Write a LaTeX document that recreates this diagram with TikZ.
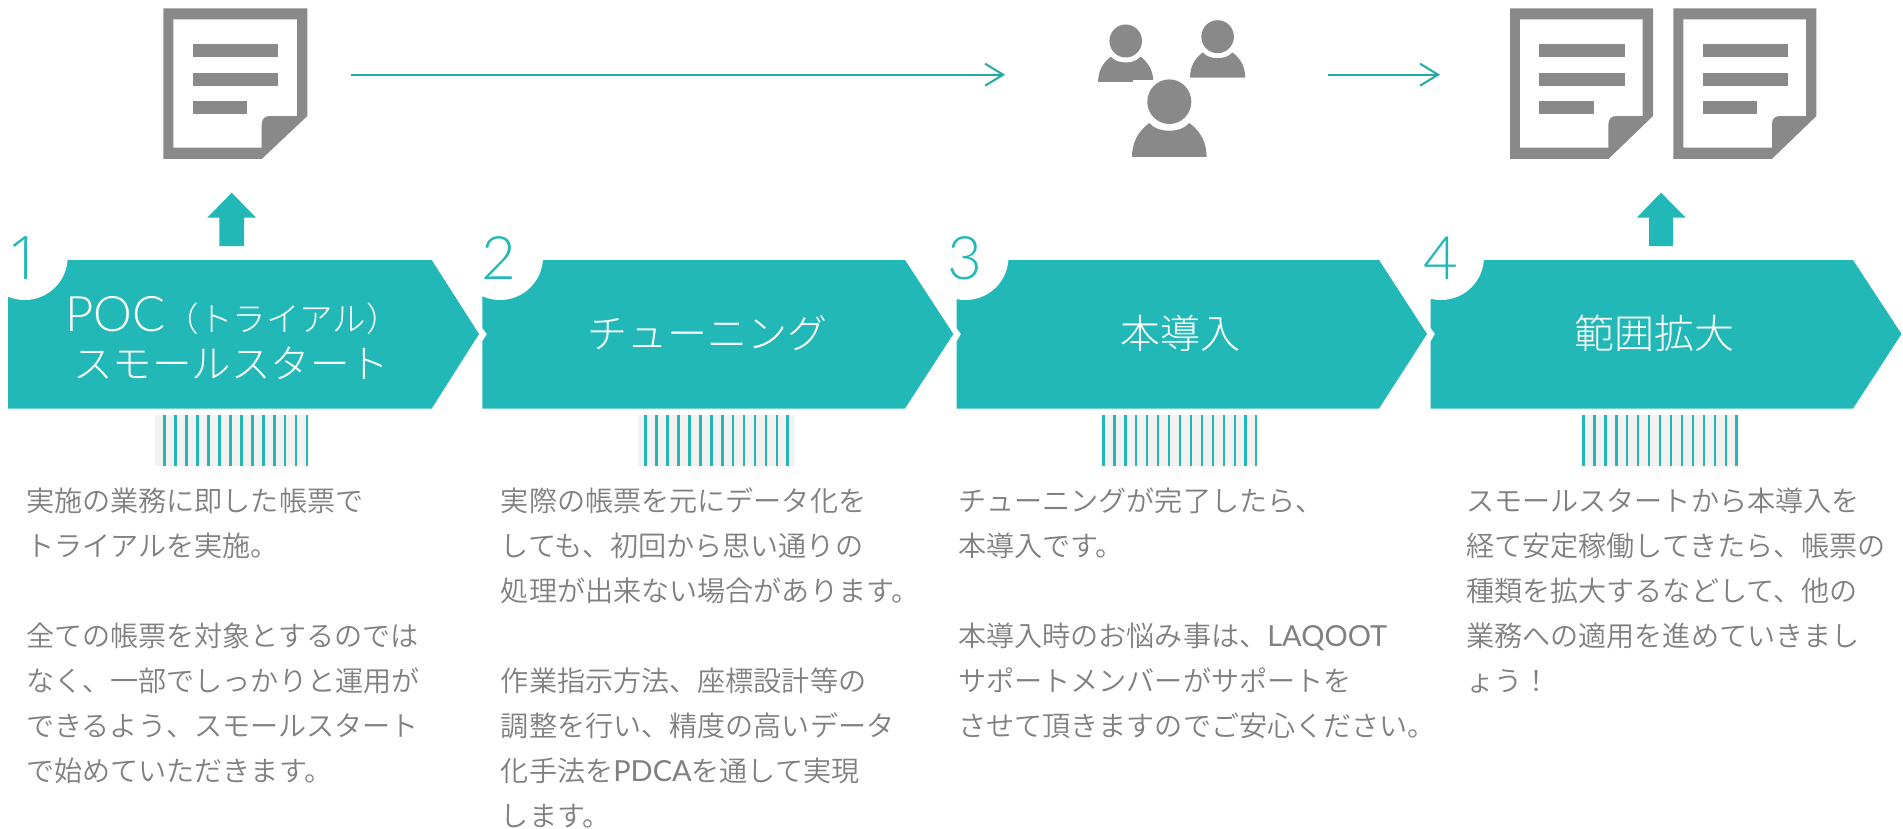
\documentclass[tikz,border=0pt]{standalone}
\usepackage{fontspec}
\usetikzlibrary{arrows.meta}
\setmainfont{Noto Sans CJK JP DemiLight}
\newfontfamily\jplight{Noto Sans CJK JP Light}
\newfontfamily\latreg{Lato}
\newfontfamily\latlight{Lato Light}
\newfontfamily\opnlight{Open Sans Light}
\newcommand{\ltn}[1]{{\latreg\fontsize{29}{45}\selectfont #1}}
\definecolor{teal1}{HTML}{22B8B7}
\definecolor{teal2}{HTML}{22A9A6}
\definecolor{icongray}{HTML}{898989}
\definecolor{bodygray}{HTML}{808080}
\definecolor{stripebg}{HTML}{F2F2F2}
\tikzset{
  chev/.style={fill=teal1,draw=none},
  bodytext/.style={anchor=north west,inner sep=0pt,align=left,text=bodygray,font=\fontsize{28.1}{45}\selectfont},
  steplabel/.style={inner sep=0pt,align=center,text=white,font=\jplight\fontsize{40}{47}\selectfont},
  stepnum/.style={inner sep=0pt,anchor=base,text=teal1,font=\latlight\fontsize{60}{60}\selectfont},
  conn/.style={draw=teal2,line width=2pt,-{Straight Barb[length=18pt,width=22pt,line width=2pt]}},
  bigarrow/.style={fill=teal1,draw=none},
  iconfill/.style={fill=icongray,draw=none}
}
\newcommand{\docicon}[4]{% x, y, width, name
  \begin{scope}[shift={(#1,#2)}]
    \coordinate (#4) at (0,0);
    \fill[icongray] (0,0) -- (#3,0) -- (#3,107.7) -- (98.4,150.7) -- (0,150.7) -- cycle;
    \pgfmathsetmacro{\ir}{#3-10.5}
    \fill[white] (10,11) -- (\ir,11) -- (\ir,107.7) -- (106,107.7) .. controls (101,107.7) and (98.4,111) .. (98.4,116) -- (98.4,139.4) -- (10,139.4) -- cycle;
    \fill[icongray] (29.4,36) rectangle (114.7,49);
    \fill[icongray] (29.4,64.4) rectangle (114.7,77.4);
    \fill[icongray] (29.4,92.7) rectangle (84,105.7);
  \end{scope}}
\newcommand{\personicon}[4]{% cx, cy, scale, name
  \begin{scope}[shift={(#1,#2)},xscale=#3,yscale=#3]
    \coordinate (#4) at (0,0);
    \fill[icongray] (0,0) ellipse [x radius=22,y radius=22.3];
    \fill[icongray] (-37.3,55.3) .. controls (-37.3,42) and (-32,30) .. (-20,21.3)
      .. controls (-15,27) and (-8,29) .. (0,29) .. controls (8,29) and (15,27) .. (20,21.3)
      .. controls (32,30) and (37.3,42) .. (37.3,55.3) -- cycle;
  \end{scope}}
\newcommand{\stripes}[6]{% bg left, bg right, first stripe, count, width, name
  \fill[stripebg] (#1,415) rectangle (#2,465.5);
  \coordinate (#6) at (#1,415);
  \foreach \k in {1,...,#4} {
    \pgfmathsetmacro{\sx}{#3+10.96*(\k-1)}
    \pgfmathsetmacro{\ex}{min(\sx+#5,#2)}
    \fill[teal1] (\sx,415) rectangle (\ex,465.5);
  }}
\begin{document}
\begin{tikzpicture}[x=1pt,y=-1pt]
\useasboundingbox (0,0) rectangle (1903,829);
\fill[white] (0,0) rectangle (1903,829);

% document and people icons
\docicon{163.3}{8.3}{144}{doca}
\docicon{1510}{8.3}{143}{docb}
\docicon{1673.4}{8.3}{143}{docc}
\personicon{1125.7}{41}{0.74}{persona}
\personicon{1217.6}{36.7}{0.74}{personb}
\fill[white] (1133,80) rectangle (1155,83);
\personicon{1169.3}{101.7}{1}{personc}

% flow arrows
\coordinate (f1s) at (351.3,74.7);
\coordinate (f1e) at (1005,74.7);
\coordinate (f2s) at (1328,74.7);
\coordinate (f2e) at (1440,74.7);
\draw[conn] (f1s) -- (f1e);
\draw[conn] (f2s) -- (f2e);

% up arrows
\fill[bigarrow] (231.7,192.7) -- (256,217.7) -- (244,217.7) -- (244,246) -- (219.3,246) -- (219.3,217.7) -- (207.3,217.7) -- cycle;
\fill[bigarrow] (1661,192.7) -- (1685.7,217.7) -- (1673,217.7) -- (1673,246) -- (1649,246) -- (1649,217.7) -- (1636.7,217.7) -- cycle;

% chevrons
\fill[chev] (8,260) -- (431.7,260) -- (479,334) -- (431.7,408.5) -- (8,408.5) -- cycle;
\fill[chev] (482.3,260) -- (905,260) -- (953.3,334) -- (905,408.5) -- (482.3,408.5) -- (482.3,341.5) -- (487,334) -- (482.3,328) -- cycle;
\fill[chev] (956.6,260) -- (1379,260) -- (1427,334) -- (1379,408.5) -- (956.6,408.5) -- (956.6,341.5) -- (961,334) -- (956.6,328) -- cycle;
\fill[chev] (1430.7,260) -- (1853,260) -- (1901.5,334) -- (1853,408.5) -- (1430.7,408.5) -- (1430.7,341.5) -- (1435,334) -- (1430.7,328) -- cycle;

% number discs
\fill[white] (24.7,257) circle (43);
\fill[white] (500,257) circle (43);
\fill[white] (965.5,257) circle (43);
\fill[white] (1441,257) circle (43);
\fill[white] (0,214) rectangle (8,300);
\fill[white] (479,214) rectangle (482.3,300);
\fill[white] (953,214) rectangle (956.6,300);
\fill[white] (1427,214) rectangle (1430.7,300);

\node[stepnum,font=\opnlight\fontsize{60}{60}\selectfont] (n1) at (24.5,279) {1};
\node[stepnum] (n2) at (499,279) {2};
\node[stepnum] (n3) at (964.5,279) {3};
\node[stepnum] (n4) at (1440.5,279) {4};

% step labels
\node[steplabel] (s1) at (231,338) {\hspace*{3pt}{\latlight\fontsize{49}{47}\selectfont POC}{\fontsize{33.5}{47}\selectfont （トライアル）}\\{\fontsize{39.5}{47}\selectfont スモールスタート}};
\node[steplabel] (s2) at (707.5,333) {チューニング};
\node[steplabel] (s3) at (1180,333) {本導入};
\node[steplabel] (s4) at (1654,333) {範囲拡大};

% stripes
\stripes{155}{309}{163.3}{14}{2.6}{st1}
\stripes{638}{795}{644}{14}{2.8}{st2}
\stripes{1102}{1257}{1102}{15}{2.6}{st3}
\stripes{1582}{1738.7}{1582}{15}{2.6}{st4}

% body text
\node[bodytext] (t1) at (26,480) {\strut 実施の業務に即した帳票で\\トライアルを実施。\\\mbox{}\\全ての帳票を対象とするのでは\\なく、一部でしっかりと運用が\\できるよう、スモールスタート\\で始めていただきます。};
\node[bodytext] (t2) at (500.7,480) {\strut 実際の帳票を元にデータ化を\\しても、初回から思い通りの\\処理が出来ない場合があります。\\\mbox{}\\作業指示方法、座標設計等の\\調整を行い、精度の高いデータ\\化手法を\ltn{PDCA}を通して実現\\します。};
\node[bodytext] (t3) at (958,480) {\strut チューニングが完了したら、\\本導入です。\\\mbox{}\\本導入時のお悩み事は、\ltn{LAQOOT}\\サポートメンバーがサポートを\\させて頂きますのでご安心ください。};
\node[bodytext] (t4) at (1466,480) {\strut スモールスタートから本導入を\\経て安定稼働してきたら、帳票の\\種類を拡大するなどして、他の\\業務への適用を進めていきまし\\ょう！};
\end{tikzpicture}
\end{document}
